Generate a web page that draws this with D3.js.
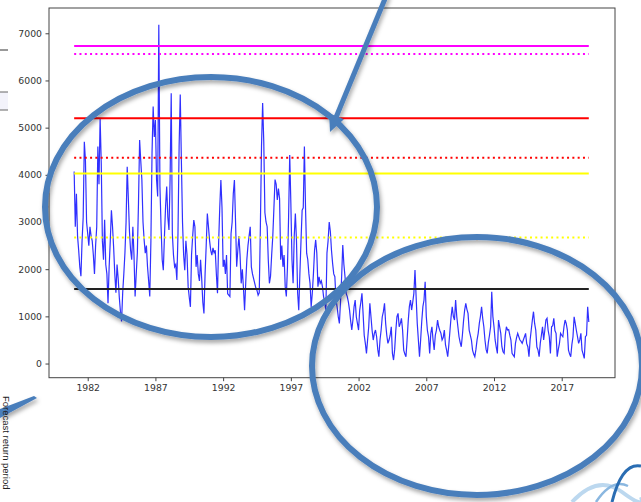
<!DOCTYPE html>
<html><head><meta charset="utf-8">
<script src="https://cdn.jsdelivr.net/npm/d3@7"></script>
<style>body{margin:0;background:#fff;} svg{display:block;font-family:"DejaVu Sans",sans-serif;}</style>
</head><body>
<svg id="c" width="641" height="502"></svg>
<script>
// Monthly flow series, Jan 1981 .. Jan 2019
const startYear = 1981;
const flow = [
 4070,2900,3600,2700,2400,2050,1850,2600,3100,4700,4300,3000,
 2750,2500,2900,2700,2600,2300,1900,2500,2900,4600,3800,5200,
 4250,2600,2200,3050,2100,1900,1280,2050,2600,3250,2900,2450,
 1900,1500,2100,1800,1400,1100,890,1500,1900,2350,3000,4170,
 3500,2800,2400,2200,2900,2300,1420,1900,2350,3400,4740,4300,
 3890,3000,2620,2340,2500,2050,1750,1420,2600,4460,5450,4800,
 5160,3900,3540,7180,3750,2900,2200,1980,2700,3330,3750,3100,
 2830,3900,5730,2750,2300,2050,2100,1770,2760,4600,5700,4300,
 3000,2300,1980,2600,2300,1630,1400,1200,2300,2700,3040,2900,
 2050,2300,1900,1750,2200,1800,1300,1060,1900,2500,3180,2900,
 2600,2400,2300,2450,2350,2400,1900,1490,2550,3300,3890,3300,
 2050,2200,1900,2300,1480,1450,1420,2750,3000,3600,3890,3000,
 2050,2400,2700,2300,1700,2000,1600,1130,1700,2200,2500,2700,
 2900,2050,1900,1800,1700,1600,1550,1450,1500,2900,4600,5520,
 4700,3200,3000,2900,2200,1700,1850,2300,2700,3300,3900,3800,
 3470,3710,3500,2200,2500,2050,2300,1630,1420,2050,3100,4420,
 3400,2200,1700,2700,3180,2600,1500,1130,1900,2600,3250,3300,
 4600,3300,2340,2200,1900,1700,1200,1490,1900,2400,2620,2340,
 1630,1840,1700,1750,1630,1420,1300,1130,2340,2600,3000,2800,
 2400,2124,1900,1840,1346,1200,992,852,1300,1840,2512,2100,
 1840,1488,1420,1300,1134,900,710,922,1200,1346,992,850,
 710,1134,1300,1488,1064,600,428,216,500,780,1276,992,
 700,498,640,710,568,300,144,500,710,992,1100,1276,
 852,600,428,498,600,780,216,74,300,700,992,1064,
 780,850,958,710,286,200,144,500,900,1205,1346,1134,
 1300,1488,1982,1417,852,498,144,500,900,1205,1346,1735,
 1000,700,568,216,640,780,498,286,600,710,922,780,
 700,640,498,550,710,400,286,144,400,700,992,1205,
 1000,922,1346,1000,780,568,450,356,600,900,1134,1276,
 1150,1064,710,600,498,286,200,144,300,500,640,852,
 1000,1205,958,780,498,300,216,450,600,780,1523,1000,
 780,500,350,216,922,780,640,356,250,216,600,780,
 710,720,600,498,216,180,144,428,550,640,568,498,
 470,428,500,568,640,420,356,144,500,710,922,1099,
 850,710,350,286,144,428,600,780,498,700,922,958,
 700,568,216,780,800,958,700,640,144,300,428,640,
 600,568,780,922,850,710,286,200,144,400,568,992,
 852,700,568,428,500,640,286,200,110,568,600,1205,
 880
];
// Threshold levels (horizontal reference lines)
const levels = [6730, 6560, 5200, 4360, 4030, 2670, 1580];
const levelNames = ["magenta solid","magenta dotted","red solid","red dotted","yellow solid","yellow dotted","black solid"];
const yTicks = [0,1000,2000,3000,4000,5000,6000,7000];
const xTickYears = [1982,1987,1992,1997,2002,2007,2012,2017];
const sideText = "Forecast return period";

const levelStyle = {
  "magenta solid":{c:"#ff00ff",d:null},
  "magenta dotted":{c:"#ff00ff",d:"2,3.3"},
  "red solid":{c:"#ff0000",d:null},
  "red dotted":{c:"#ff0000",d:"2,3.3"},
  "yellow solid":{c:"#ffff00",d:null},
  "yellow dotted":{c:"#ffff00",d:"2,3.3"},
  "black solid":{c:"#222222",d:null}
};

const svg = d3.select("#c");
const defs = svg.append("defs");
const f = defs.append("filter").attr("id","sh").attr("x","-20%").attr("y","-20%").attr("width","140%").attr("height","140%");
f.append("feDropShadow").attr("dx",1.5).attr("dy",3).attr("stdDeviation",2).attr("flood-color","#000").attr("flood-opacity",0.35);

const L=49, R=615, T=8, B=377.7;
const x = d3.scaleLinear().domain([1979.142, 2020.935]).range([L,R]);
const y = d3.scaleLinear().domain([-300, 7536]).range([B,T]);

const data = flow.map((v,i)=>({t:startYear + i/12, v}));
const tEnd = startYear + (flow.length-1)/12;

// slide remnants at left
svg.append("line").attr("x1",0).attr("x2",8).attr("y1",50).attr("y2",50).attr("stroke","#777").attr("stroke-width",1.5);
svg.append("rect").attr("x",0).attr("y",92).attr("width",8).attr("height",18).attr("fill","#f3f3fb");
svg.append("line").attr("x1",0).attr("x2",8).attr("y1",92).attr("y2",92).attr("stroke","#666").attr("stroke-width",1);
svg.append("line").attr("x1",0).attr("x2",8).attr("y1",110).attr("y2",110).attr("stroke","#666").attr("stroke-width",1);

// axes frame
const g = svg.append("g");
g.append("rect").attr("x",L).attr("y",T).attr("width",R-L).attr("height",B-T).attr("fill","#fff").attr("stroke","#444").attr("stroke-width",1);

// series
g.append("path").datum(data)
  .attr("d", d3.line().x(d=>x(d.t)).y(d=>y(d.v)))
  .attr("fill","none").attr("stroke","#0c0cff").attr("stroke-opacity",0.85).attr("stroke-width",1.2);

// levels
levels.forEach((lv,i)=>{
  const s = levelStyle[levelNames[i]];
  g.append("line").attr("x1",x(startYear)).attr("x2",x(tEnd)).attr("y1",y(lv)).attr("y2",y(lv))
   .attr("stroke",s.c).attr("stroke-width",2).attr("stroke-dasharray",s.d);
});

// axes
const ax = g.append("g").attr("transform",`translate(0,${B})`)
  .call(d3.axisBottom(x).tickValues(xTickYears).tickFormat(d3.format("d")).tickSize(3.5).tickPadding(3.5));
const ay = g.append("g").attr("transform",`translate(${L},0)`)
  .call(d3.axisLeft(y).tickValues(yTicks).tickFormat(d3.format("d")).tickSize(3.5).tickPadding(3.5));
[ax,ay].forEach(a=>{
  a.select(".domain").remove();
  a.selectAll("line").attr("stroke","#444");
  a.selectAll("text").attr("font-size","9.3px").attr("fill","#333").attr("font-family","DejaVu Sans");
});

// annotation ellipses
const ann = svg.append("g").attr("filter","url(#sh)");
ann.append("ellipse").attr("cx",211).attr("cy",207).attr("rx",166).attr("ry",130)
  .attr("fill","none").attr("stroke","#4a7ebb").attr("stroke-width",6);
ann.append("ellipse").attr("cx",477).attr("cy",366).attr("rx",165).attr("ry",129)
  .attr("fill","none").attr("stroke","#4a7ebb").attr("stroke-width",6);
// arrow
const p0=[387,-6], tip=[330,132];
const dx=tip[0]-p0[0], dy=tip[1]-p0[1], len=Math.hypot(dx,dy), ux=dx/len, uy=dy/len;
const hl=17, hw=8;
const bc=[tip[0]-ux*hl, tip[1]-uy*hl];
ann.append("line").attr("x1",p0[0]).attr("y1",p0[1]).attr("x2",bc[0]+ux*3).attr("y2",bc[1]+uy*3)
  .attr("stroke","#4a7ebb").attr("stroke-width",5);
ann.append("polygon").attr("points",[tip,[bc[0]-uy*hw,bc[1]+ux*hw],[bc[0]+uy*hw,bc[1]-ux*hw]].map(p=>p.join(",")).join(" "))
  .attr("fill","#4a7ebb");
// left wedge remnant
ann.append("polygon").attr("points","0,409 34,396 37,398 0,418").attr("fill","#4a7ebb");

// bottom-right decorative waves
svg.append("path").attr("d","M572,502 Q598,474 622,492 T641,497").attr("fill","none").attr("stroke","#bcd8ef").attr("stroke-width",4);
svg.append("path").attr("d","M596,502 Q612,478 628,486").attr("fill","none").attr("stroke","#8ab7e0").attr("stroke-width",2.5);
svg.append("path").attr("d","M612,502 Q622,462 641,466").attr("fill","none").attr("stroke","#2a6db3").attr("stroke-width",3);

// rotated side text
svg.append("text").attr("transform","translate(2.5,396) rotate(90)")
  .attr("font-size","9.5px").attr("fill","#222").attr("font-family","Liberation Sans, Arial, sans-serif").text(sideText);
</script>
</body></html>
